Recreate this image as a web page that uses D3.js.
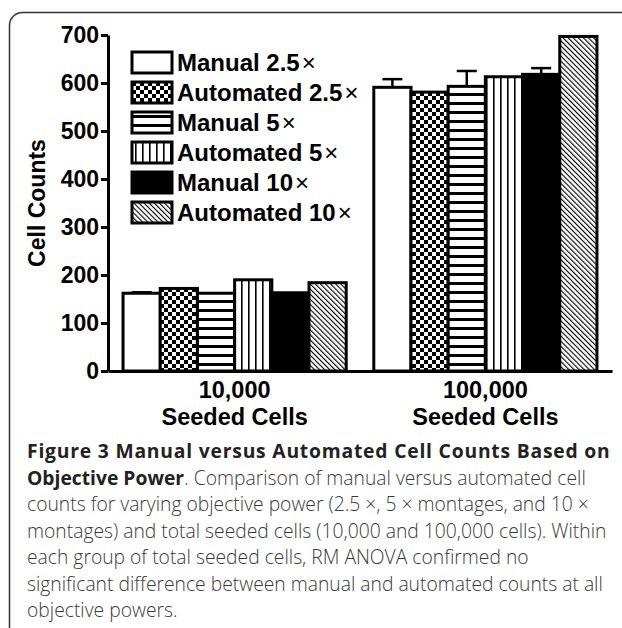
<!DOCTYPE html>
<html>
<head>
<meta charset="utf-8">
<script src="https://d3js.org/d3.v7.min.js"></script>
<style>
body { margin: 0; background: #fff; }
.bold-text { font-family: "Liberation Sans", Arial, sans-serif; font-weight: bold; fill: #000; }
.axis path, .axis line { stroke: #000; stroke-width: 3; }
.caption { font-family: "Open Sans", sans-serif; font-size: 19.3px; font-weight: 300; fill: #3a3a3a; }
</style>
</head>
<body>
<div id="chart"></div>
<script>
// data
var groups = ["10,000", "100,000"];
var series = ["Manual 2.5", "Automated 2.5", "Manual 5", "Automated 5", "Manual 10", "Automated 10"];
var counts10k = [162, 172, 162, 190, 163, 184];
var counts100k = [591, 581, 593, 613, 618, 697];
var err10k = [2, 0, 0, 0, 0, 0];
var err100k = [17, 0, 32, 0, 13, 0];
var yTicks = [0, 100, 200, 300, 400, 500, 600, 700];
var captionLines = [
    [["Figure 3 Manual versus Automated Cell Counts Based on", true]],
    [["Objective Power", true], [". Comparison of manual versus automated cell", false]],
    [["counts for varying objective power (2.5 \u00d7, 5 \u00d7 montages, and 10 \u00d7", false]],
    [["montages) and total seeded cells (10,000 and 100,000 cells). Within", false]],
    [["each group of total seeded cells, RM ANOVA confirmed no", false]],
    [["significant difference between manual and automated counts at all", false]],
    [["objective powers.", false]]
];

// fills for each series (patterns defined below)
var fills = ["#fff", "url(#checker)", "url(#hstripe)", "url(#vstripe)", "#000", "url(#hatch)"];

var width = 622, height = 628;

var svg = d3.select("#chart")
    .append("svg")
    .attr("width", width)
    .attr("height", height);

var defs = svg.append("defs");

// checkerboard
var checker = defs.append("pattern")
    .attr("id", "checker").attr("patternUnits", "userSpaceOnUse")
    .attr("width", 8).attr("height", 8);
checker.append("rect").attr("width", 8).attr("height", 8).attr("fill", "#fff");
checker.append("rect").attr("width", 4).attr("height", 4).attr("fill", "#000");
checker.append("rect").attr("x", 4).attr("y", 4).attr("width", 4).attr("height", 4).attr("fill", "#000");

// horizontal stripes
var hstripe = defs.append("pattern")
    .attr("id", "hstripe").attr("patternUnits", "userSpaceOnUse")
    .attr("width", 9).attr("height", 9);
hstripe.append("rect").attr("width", 9).attr("height", 9).attr("fill", "#fff");
hstripe.append("rect").attr("y", 3).attr("width", 9).attr("height", 3).attr("fill", "#000");

// vertical stripes
var vstripe = defs.append("pattern")
    .attr("id", "vstripe").attr("patternUnits", "userSpaceOnUse")
    .attr("width", 7).attr("height", 7);
vstripe.append("rect").attr("width", 7).attr("height", 7).attr("fill", "#fff");
vstripe.append("rect").attr("x", 3).attr("width", 1.6).attr("height", 7).attr("fill", "#000");

// diagonal hatch
var hatch = defs.append("pattern")
    .attr("id", "hatch").attr("patternUnits", "userSpaceOnUse")
    .attr("width", 3.6).attr("height", 3.6)
    .attr("patternTransform", "rotate(-45)");
hatch.append("rect").attr("width", 3.6).attr("height", 3.6).attr("fill", "#fff");
hatch.append("rect").attr("width", 1.1).attr("height", 3.6).attr("fill", "#000");

// frame around the figure
svg.append("rect")
    .attr("x", 9.5).attr("y", 12.5)
    .attr("width", 640).attr("height", 640)
    .attr("rx", 13)
    .attr("fill", "none")
    .attr("stroke", "#333")
    .attr("stroke-width", 1.5);

// scales
var x0 = d3.scaleBand()
    .domain(groups)
    .range([108, 612])
    .paddingInner(0.11)
    .paddingOuter(0.06);
var x1 = d3.scaleBand()
    .domain(series)
    .range([0, x0.bandwidth()]);
var y = d3.scaleLinear()
    .domain([0, 700])
    .range([371, 35]);

var rows = [];
groups.forEach(function(g, gi) {
    var vals = gi == 0 ? counts10k : counts100k;
    var errs = gi == 0 ? err10k : err100k;
    series.forEach(function(s, si) {
        rows.push({group: g, series: s, value: vals[si], err: errs[si], fill: fills[si]});
    });
});

// bars
svg.selectAll(".bar")
    .data(rows)
    .enter().append("rect")
    .attr("class", "bar")
    .attr("x", function(d) { return x0(d.group) + x1(d.series); })
    .attr("y", function(d) { return y(d.value); })
    .attr("width", x1.bandwidth())
    .attr("height", function(d) { return y(0) - y(d.value); })
    .attr("fill", function(d) { return d.fill; })
    .attr("stroke", "#000")
    .attr("stroke-width", 3);

// error bars (upper only)
var errRows = rows.filter(function(d) { return d.err > 0; });
svg.selectAll(".err")
    .data(errRows)
    .enter().append("line")
    .attr("class", "err")
    .attr("x1", function(d) { return x0(d.group) + x1(d.series) + x1.bandwidth() / 2; })
    .attr("x2", function(d) { return x0(d.group) + x1(d.series) + x1.bandwidth() / 2; })
    .attr("y1", function(d) { return y(d.value); })
    .attr("y2", function(d) { return y(d.value + d.err); })
    .attr("stroke", "#000").attr("stroke-width", 2.5);
svg.selectAll(".cap")
    .data(errRows)
    .enter().append("line")
    .attr("class", "cap")
    .attr("x1", function(d) { return x0(d.group) + x1(d.series) + x1.bandwidth() / 2 - 10; })
    .attr("x2", function(d) { return x0(d.group) + x1(d.series) + x1.bandwidth() / 2 + 10; })
    .attr("y1", function(d) { return y(d.value + d.err); })
    .attr("y2", function(d) { return y(d.value + d.err); })
    .attr("stroke", "#000").attr("stroke-width", 2.5);

// y axis
var yAxis = d3.axisLeft(y).tickValues(yTicks).tickSize(7).tickSizeOuter(0).tickPadding(2);
var yg = svg.append("g")
    .attr("class", "axis")
    .attr("transform", "translate(108,0)")
    .call(yAxis);
yg.selectAll("text")
    .attr("class", "bold-text")
    .style("font-size", "23px");

// x axis (line only)
var xAxis = d3.axisBottom(x0).tickSize(0).tickSizeOuter(0).tickFormat("");
svg.append("g")
    .attr("class", "axis")
    .attr("transform", "translate(0,371)")
    .call(xAxis);

// group labels
groups.forEach(function(g) {
    var cx = x0(g) + x0.bandwidth() / 2;
    var t = svg.append("text")
        .attr("class", "bold-text")
        .attr("text-anchor", "middle")
        .style("font-size", "23.5px");
    t.append("tspan").attr("x", cx).attr("y", 398).text(g);
    t.append("tspan").attr("x", cx).attr("y", 425).text("Seeded Cells");
});

// y axis title
svg.append("text")
    .attr("class", "bold-text")
    .attr("transform", "translate(45,203) rotate(-90)")
    .attr("text-anchor", "middle")
    .style("font-size", "23px")
    .text("Cell Counts");

// legend
var legend = svg.append("g")
    .attr("transform", "translate(132,52)");
series.forEach(function(s, i) {
    var row = legend.append("g").attr("transform", "translate(0," + (i * 30) + ")");
    row.append("rect")
        .attr("width", 40).attr("height", 21)
        .attr("fill", fills[i])
        .attr("stroke", "#000").attr("stroke-width", 3);
    var t = row.append("text")
        .attr("class", "bold-text")
        .attr("x", 45).attr("y", 18.5)
        .style("font-size", "24px");
    t.append("tspan").text(s);
    t.append("tspan").attr("font-weight", "normal").attr("dx", 2).text("\u00d7");
});

// caption
captionLines.forEach(function(line, i) {
    var t = svg.append("text")
        .attr("class", "caption")
        .attr("x", 27)
        .attr("y", 458 + i * 26.5);
    line.forEach(function(part) {
        var sp = t.append("tspan").text(part[0]);
        if (part[1]) sp.attr("font-weight", "bold").attr("fill", "#222");
    });
    if (i == 0) t.attr("letter-spacing", "0.8px");
});
</script>
</body>
</html>
